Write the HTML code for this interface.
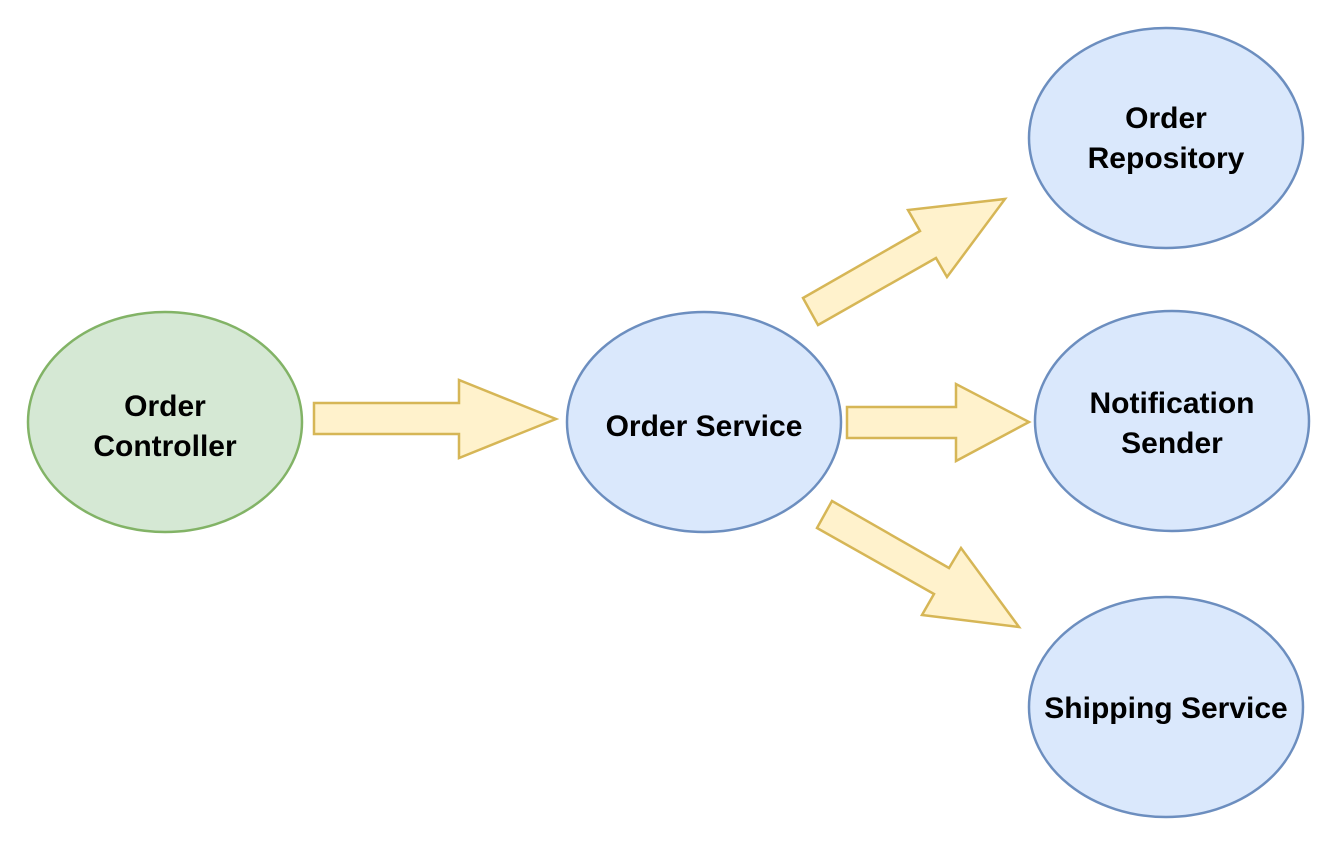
<!DOCTYPE html>
<html><head><meta charset="utf-8"><style>
html,body{margin:0;padding:0;background:#fff;width:1341px;height:853px;overflow:hidden}
text{font-family:"Liberation Sans",Arial,sans-serif;font-weight:bold;font-size:30px;fill:#000}
</style></head><body>
<svg width="1341" height="853" viewBox="0 0 1341 853" xmlns="http://www.w3.org/2000/svg">
<g stroke-width="2.5">
<ellipse cx="165" cy="422" rx="137" ry="110" fill="#d5e8d4" stroke="#82b366"/>
<ellipse cx="704" cy="422" rx="137" ry="110" fill="#dae8fc" stroke="#6c8ebf"/>
<ellipse cx="1166" cy="138" rx="137" ry="110" fill="#dae8fc" stroke="#6c8ebf"/>
<ellipse cx="1172" cy="421" rx="137" ry="110" fill="#dae8fc" stroke="#6c8ebf"/>
<ellipse cx="1166" cy="707" rx="137" ry="110" fill="#dae8fc" stroke="#6c8ebf"/>
<g fill="#fff2cc" stroke="#d6b656" stroke-linejoin="miter">
<polygon points="314,403 459,403 459,380 556,419 459,458 459,434 314,434"/>
<polygon points="847,407 956,407 956,384 1029,422 956,461 956,438 847,438"/>
<polygon points="803,298 920,231 908,210 1005,199 947,277 936,258 818,325"/>
<polygon points="832,501 949,568 961,548 1019,627 922,615 934,594 817,528"/>
</g>
</g>
<g text-anchor="middle">
<text x="165" y="416">Order</text>
<text x="165" y="456">Controller</text>
<text x="704" y="436">Order Service</text>
<text x="1166" y="128">Order</text>
<text x="1166" y="168">Repository</text>
<text x="1172" y="413">Notification</text>
<text x="1172" y="453">Sender</text>
<text x="1166" y="718">Shipping Service</text>
</g>
</svg>
</body></html>
